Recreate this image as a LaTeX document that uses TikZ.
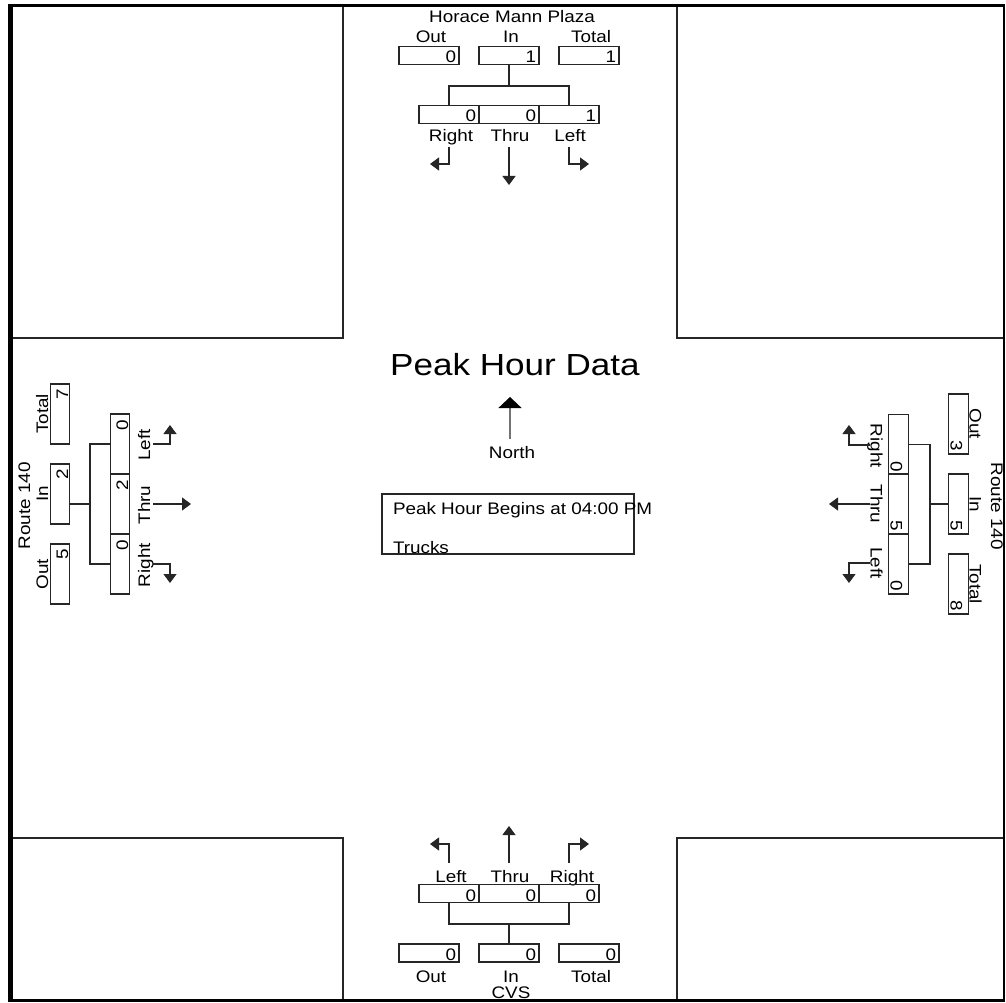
\documentclass[tikz,border=0pt]{standalone}
\usepackage{fontspec}
\setmainfont[FakeStretch=1.13]{Liberation Sans}
\newfontfamily\bigfont[FakeStretch=1.15]{Liberation Sans}
\usetikzlibrary{arrows.meta,calc}
\newcommand\smf{\fontsize{16.7}{19}\selectfont}
\newcommand\bgf{\bigfont\fontsize{30.5}{36}\selectfont}
\begin{document}
\begin{tikzpicture}[x=1pt,y=-1pt,
  every node/.style={inner sep=0pt, outer sep=0pt, font=\smf},
  box/.style={draw=black!85, line width=1.1pt, rectangle},
  hbox/.style={box, minimum width=60pt, minimum height=18pt},
  vbox/.style={box, minimum width=19.5pt, minimum height=60pt},
  conn/.style={draw=black!85, line width=1.1pt},
  arr/.style={conn, -{Triangle[length=9pt,width=13pt]}},
  thinline/.style={draw=black!85, line width=1.2pt},
  lv/.style={rotate=90, anchor=base east},
  rv/.style={rotate=-90, anchor=base east},
  ll/.style={rotate=90, anchor=base},
  rl/.style={rotate=-90, anchor=base},
]
\useasboundingbox (0,0) rectangle (1006,1003);
\fill[white] (0,0) rectangle (1006,1003);

% corner blocks
\draw[thinline] (10,5) rectangle (343,338);
\draw[thinline] (677,5) rectangle (1004,338);
\draw[thinline] (10,838) rectangle (343,1000);
\draw[thinline] (677,838) rectangle (1004,1000);

% ---------------- top approach ----------------
\node[anchor=base] (tName) at (512,23) {Horace Mann Plaza};
\node[hbox] (tOut) at (429,55.5) {};
\node[hbox] (tIn) at (509,55.5) {};
\node[hbox] (tTot) at (589,55.5) {};
\node[anchor=base] (tOutL) at (431,43) {Out};
\node[anchor=base] (tInL) at (511,43) {In};
\node[anchor=base] (tTotL) at (591,43) {Total};
\node[anchor=base east] (tOutV) at ($(tOut.south east)+(-3,-1.5)$) {0};
\node[anchor=base east] (tInV) at ($(tIn.south east)+(-3,-1.5)$) {1};
\node[anchor=base east] (tTotV) at ($(tTot.south east)+(-3,-1.5)$) {1};
\node[hbox] (tR) at (449,114.5) {};
\node[hbox] (tT) at (509,114.5) {};
\node[hbox] (tL) at (569,114.5) {};
\node[anchor=base east] (tRV) at ($(tR.south east)+(-3,-1.5)$) {0};
\node[anchor=base east] (tTV) at ($(tT.south east)+(-3,-1.5)$) {0};
\node[anchor=base east] (tLV) at ($(tL.south east)+(-3,-1.5)$) {1};
\node[anchor=base] (tRL) at (451,142) {Right};
\node[anchor=base] (tTL) at (510,142) {Thru};
\node[anchor=base] (tLL) at (570,142) {Left};
\coordinate (tJ) at (509,86);
\draw[conn] (tR.north) |- (tJ) -| (tL.north);
\draw[conn] (tIn.south) -- (tJ);
\coordinate (tRs) at (449,147); \coordinate (tRe) at (430,164);
\coordinate (tTs) at (509,147); \coordinate (tTe) at (509,185);
\coordinate (tLs) at (569,147); \coordinate (tLe) at (589,164);
\draw[arr] (tRs) |- (tRe);
\draw[arr] (tTs) -- (tTe);
\draw[arr] (tLs) |- (tLe);

% ---------------- bottom approach ----------------
\coordinate (bLs) at (449,863); \coordinate (bLe) at (430,844);
\coordinate (bTs) at (509,863); \coordinate (bTe) at (509,826);
\coordinate (bRs) at (569,863); \coordinate (bRe) at (589,844);
\draw[arr] (bLs) |- (bLe);
\draw[arr] (bTs) -- (bTe);
\draw[arr] (bRs) |- (bRe);
\node[anchor=base] (bLL) at (451,882) {Left};
\node[anchor=base] (bTL) at (510,882) {Thru};
\node[anchor=base] (bRL) at (572,882) {Right};
\node[hbox] (bL) at (449,893.5) {};
\node[hbox] (bT) at (509,893.5) {};
\node[hbox] (bR) at (569,893.5) {};
\node[anchor=base east] (bLV) at ($(bL.south east)+(-3,-1.5)$) {0};
\node[anchor=base east] (bTV) at ($(bT.south east)+(-3,-1.5)$) {0};
\node[anchor=base east] (bRV) at ($(bR.south east)+(-3,-1.5)$) {0};
\coordinate (bJ) at (509,924);
\draw[conn] (bL.south) |- (bJ) -| (bR.south);
\node[hbox] (bOut) at (429,953) {};
\node[hbox] (bIn) at (509,953) {};
\node[hbox] (bTot) at (589,953) {};
\draw[conn] (bIn.north) -- (bJ);
\node[anchor=base east] (bOutV) at ($(bOut.south east)+(-3,-1.5)$) {0};
\node[anchor=base east] (bInV) at ($(bIn.south east)+(-3,-1.5)$) {0};
\node[anchor=base east] (bTotV) at ($(bTot.south east)+(-3,-1.5)$) {0};
\node[anchor=base] (bOutL) at (431,982) {Out};
\node[anchor=base] (bInL) at (511,982) {In};
\node[anchor=base] (bTotL) at (591,982) {Total};
\node[anchor=base] (bName) at (511,998) {CVS};

% ---------------- left approach ----------------
\node[ll] (lName) at (30,506) {Route 140};
\node[vbox] (lTot) at (60,414) {};
\node[vbox] (lIn) at (60,494) {};
\node[vbox] (lOut) at (60,574) {};
\node[ll] (lTotL) at (48,414) {Total};
\node[ll] (lInL) at (48,494) {In};
\node[ll] (lOutL) at (48,574) {Out};
\node[lv] (lTotV) at (68,389) {7};
\node[lv] (lInV) at (68,469) {2};
\node[lv] (lOutV) at (68,549) {5};
\node[vbox] (lL) at (120,444) {};
\node[vbox] (lT) at (120,504) {};
\node[vbox] (lR) at (120,564) {};
\node[lv] (lLV) at (128,420) {0};
\node[lv] (lTV) at (128,480) {2};
\node[lv] (lRV) at (128,540) {0};
\node[ll] (lLL) at (150,445) {Left};
\node[ll] (lTL) at (150,505) {Thru};
\node[ll] (lRL) at (150,565) {Right};
\coordinate (lJ) at (90,504);
\draw[conn] (lL.west) -| (lJ) |- (lR.west);
\draw[conn] (lJ) -- (lIn.east |- lJ);
\coordinate (lLs) at (153,444); \coordinate (lLe) at (170,425);
\coordinate (lTs) at (153,504); \coordinate (lTe) at (191,504);
\coordinate (lRs) at (153,564); \coordinate (lRe) at (170,583);
\draw[arr] (lLs) -| (lLe);
\draw[arr] (lTs) -- (lTe);
\draw[arr] (lRs) -| (lRe);

% ---------------- right approach ----------------
\node[rl] (rName) at (991,506) {Route 140};
\node[vbox] (rOut) at (958.5,424) {};
\node[vbox] (rIn) at (958.5,504) {};
\node[vbox] (rTot) at (958.5,584) {};
\node[rl] (rOutL) at (969.5,424) {Out};
\node[rl] (rInL) at (969.5,504) {In};
\node[rl] (rTotL) at (969.5,584) {Total};
\node[rv] (rOutV) at (950.5,451) {3};
\node[rv] (rInV) at (950.5,531) {5};
\node[rv] (rTotV) at (950.5,611) {8};
\node[vbox] (rR) at (898.5,444.5) {};
\node[vbox] (rT) at (898.5,504) {};
\node[vbox] (rL) at (898.5,564) {};
\node[rv] (rRV) at (890.5,472) {0};
\node[rv] (rTV) at (890.5,531) {5};
\node[rv] (rLV) at (890.5,591) {0};
\node[rl] (rRL) at (870.5,446) {Right};
\node[rl] (rTL) at (870.5,504) {Thru};
\node[rl] (rLL) at (870.5,563) {Left};
\coordinate (rJ) at (930,504);
\draw[conn] (rR.east) -| (rJ) |- (rL.east);
\draw[conn] (rJ) -- (rIn.west |- rJ);
\coordinate (rRs) at (870,445); \coordinate (rRe) at (849,425);
\coordinate (rTs) at (870,504); \coordinate (rTe) at (829,504);
\coordinate (rLs) at (870,563); \coordinate (rLe) at (849,583);
\draw[arr] (rRs) -| (rRe);
\draw[arr] (rTs) -- (rTe);
\draw[arr] (rLs) -| (rLe);

% ---------------- centre ----------------
\node[anchor=base, font=\bgf] (title) at (515,375) {Peak Hour Data};
\coordinate (nS) at (510,439); \coordinate (nE) at (510,397);
\draw[draw=black!55, line width=1.2pt, -{Triangle[length=11pt,width=23pt,color=black]}] (nS) -- (nE);
\node[anchor=base] (north) at (512,458) {North};
\node[box, minimum width=252pt, minimum height=60pt, anchor=north west] (info) at (382,494) {};
\node[anchor=base west] (info1) at (393,514) {Peak Hour Begins at 04:00 PM};
\node[anchor=base west] (info2) at (393,553) {Trucks};

% ---------------- frame ----------------
\draw[black, line width=1.5pt] (1004,5) -- (1004,1000);
\draw[black, line width=3pt] (8,5.5) -- (1004.8,5.5);
\draw[black, line width=3pt] (8,1000.5) -- (1004.8,1000.5);
\draw[black, line width=4.5pt] (10.5,4) -- (10.5,1002);
\end{tikzpicture}
\end{document}
